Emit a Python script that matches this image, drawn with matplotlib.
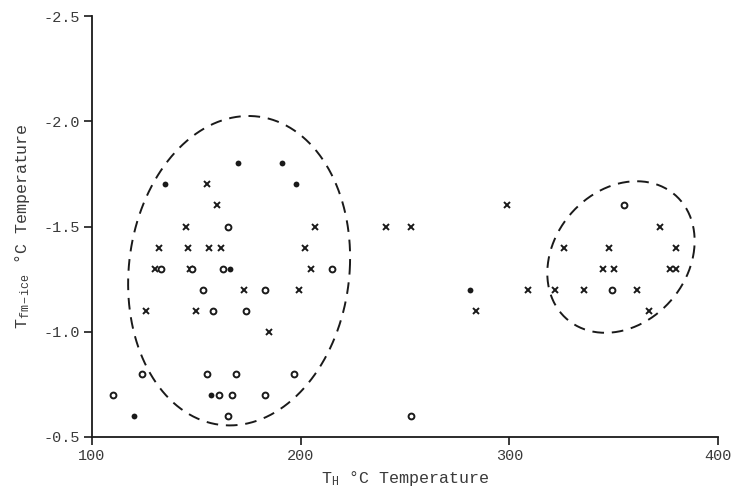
"""
Fluid inclusion plot: T_fm-ice vs T_H, scanned-figure look.
"""
import numpy as np
import matplotlib
matplotlib.use('Agg')
import matplotlib.pyplot as plt

# ── Data ──────────────────────────────────────────────────────────────────
cross_th = [155, 160, 145, 207, 132, 146, 156, 162, 202, 130, 147, 205,
            173, 199, 126, 150, 185, 241, 253, 299, 284,
            372, 326, 348, 380, 345, 350, 377, 380, 309, 322, 336, 361, 367]
cross_tm = [-1.7, -1.6, -1.5, -1.5, -1.4, -1.4, -1.4, -1.4, -1.4, -1.3, -1.3, -1.3,
            -1.2, -1.2, -1.1, -1.1, -1.0, -1.5, -1.5, -1.6, -1.1,
            -1.5, -1.4, -1.4, -1.4, -1.3, -1.3, -1.3, -1.3, -1.2, -1.2, -1.2, -1.2, -1.1]

open_th = [165, 133, 148, 163, 215, 153, 183, 158, 174, 124, 155, 169, 197,
           110, 161, 167, 183, 165, 253, 355, 349]
open_tm = [-1.5, -1.3, -1.3, -1.3, -1.3, -1.2, -1.2, -1.1, -1.1, -0.8, -0.8, -0.8, -0.8,
           -0.7, -0.7, -0.7, -0.7, -0.6, -0.6, -1.6, -1.2]

dot_th = [135, 170, 191, 198, 166, 157, 120, 281]
dot_tm = [-1.7, -1.8, -1.8, -1.7, -1.3, -0.7, -0.6, -1.2]

x_ticks = [100, 200, 300, 400]
y_ticks = [-2.5, -2.0, -1.5, -1.0, -0.5]

# hand-drawn group outlines: centre x, centre y, half width, half height, lean
groups = [(170.5, -1.29, 53.0, 0.735, 4.5),
          (353.5, -1.355, 34.5, 0.36, 7.5)]

# ── Style ─────────────────────────────────────────────────────────────────
INK = "#1a1a1a"
GREY = "#3a3a3a"
MONO = "Liberation Mono"
plt.rcParams['font.family'] = MONO
plt.rcParams['mathtext.fontset'] = 'custom'
plt.rcParams['mathtext.rm'] = MONO
plt.rcParams['mathtext.it'] = MONO

fig = plt.figure(figsize=(7.41, 5.0), dpi=100)
ax = fig.add_axes([92/741, 63/500, 626/741, 421/500])

ax.set_xlim(100, 400)
ax.set_ylim(-0.5, -2.5)

for side in ('top', 'right'):
    ax.spines[side].set_visible(False)
for side in ('left', 'bottom'):
    ax.spines[side].set_color(INK)
    ax.spines[side].set_linewidth(1.3)

ax.set_xticks(x_ticks)
ax.set_yticks(y_ticks)
ax.set_yticklabels([f"{v:.1f}" for v in y_ticks])
ax.tick_params(direction='out', length=6, width=1.2, color=INK,
               labelsize=11, labelcolor=GREY, pad=3)

# ── Points ────────────────────────────────────────────────────────────────
ax.plot(cross_th, cross_tm, ls='none', marker='x', ms=4.8, mew=1.4,
        color=INK, clip_on=False)
ax.plot(open_th, open_tm, ls='none', marker='o', ms=4.2, mew=1.4,
        mfc='white', mec=INK, clip_on=False)
ax.plot(dot_th, dot_tm, ls='none', marker='o', ms=4.2, mew=0,
        color=INK, clip_on=False)

# ── Dashed group outlines ─────────────────────────────────────────────────
t = np.linspace(0, 2*np.pi, 300)
for cx, cy, a, b, k in groups:
    ax.plot(cx + a*np.cos(t) + k*np.sin(t), cy - b*np.sin(t),
            color=INK, lw=1.4, dashes=(6, 4))

# ── Labels ────────────────────────────────────────────────────────────────
ax.set_xlabel(r"T$_{\mathrm{H}}$ °C Temperature", fontsize=12,
              color=GREY, labelpad=4)
ax.set_ylabel(r"T$_{\mathrm{fm-ice}}$ °C Temperature", fontsize=12,
              color=GREY, labelpad=8)

fig.savefig("out.png", dpi=100, facecolor="white")
plt.close(fig)
